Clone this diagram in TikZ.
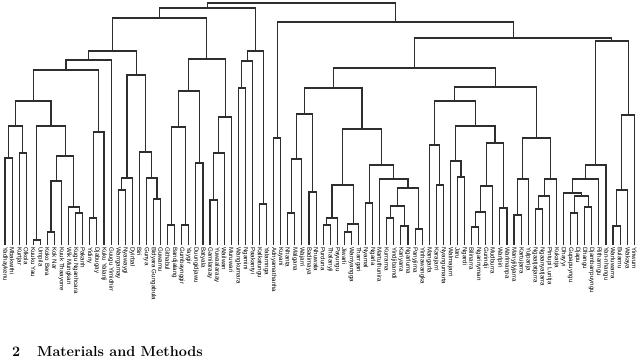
\documentclass[tikz,border=0pt]{standalone}
\usepackage{fontspec}
\newfontfamily\leaffont{Liberation Sans}
\usetikzlibrary{calc}

\tikzset{
  branch/.style={draw=black!82,line width=1.1pt},
  leaflabel/.style={rotate=-90,anchor=west,inner sep=0pt,font=\leaffont\fontsize{6.2}{7}\selectfont},
  heading/.style={anchor=base west,inner sep=0pt,font=\fontsize{14.4}{17}\selectfont\bfseries}
}

\begin{document}
\begin{tikzpicture}[x=1pt,y=-1pt]
  \useasboundingbox (0,0) rectangle (640,360);
  % leaves
  \foreach \lang [count=\i from 0] in {Yadhaykenu,Mbakwithi,Kurtjar,Olkola,Kuuku Yau,Umpila,Koko Bera,Kok Nar,Kuuk Thaayorre,Wik Mungkan,Kugu Nganhcara,Pakanh,Yidiny,Djabugay,Kuku Yalanji,Guugu Yimidhirr,Warrgamay,Nyawaygi,Dyirbal,Biri,Gunya,Bidyara Gungabula,Guwamu,Githabul,Bandjalang,Gumbaynggir,Yaygir,Duungidjawu,Batyala,Gamilaraay,Yuwaalaraay,Wailwan,Muruwari,Wangkumara,Ngamini,Paakantyi,Kalkatungu,Yalarnnga,Adnyamathanha,Kuyani,Nhanta,Malgana,Wajarri,Badimaya,Nhuwala,Purduna,Thalanyji,Payungu,Jiwarli,Warriyangga,Tharrgari,Nyamal,Ngarla,Martuthunira,Kurrama,Yindjibarndi,Kariyarra,Ngarluma,Panyjima,Yinhawangka,Mangarla,Karajarri,Nyangumarta,Walmajarri,Jaru,Ngardi,Bilinarra,Ngarinyman,Gurindji,Mudburra,Warlpiri,Warlmanpa,Manyjilyjarra,Kartujarra,Yulparija,Ngaatjatjarra,Ngaanyatjarra,Pintupi Luritja,Kukatja,Dhay'yi,Gupapuyngu,Djapu,Dhangu,Djambarrpuyngu,Ritharrngu,Yan-nhangu,Warluwarra,Bularnu,Wakaya,Yinwum} {
    \coordinate (l\i) at ({5+7.07*\i},245);
    \node[leaflabel] (t\i) at ({5+7.07*\i},247) {\lang};
  }
  % merges: name/left/right/height
  \foreach \p/\a/\b/\h in {a1/l0/l1/158,a2/l2/l3/153,a3/a1/a2/126,a4/l4/l5/240,a5/l6/l7/232,a6/a5/l8/181,a7/l10/l11/213,a8/l9/a7/207,a9/a6/a8/156,a10/a4/a9/126,a11/a3/a10/101,b1/l12/l13/218,b2/b1/l14/132,b3/a11/b2/70,b4/b3/l15/60,c1/l16/l17/190,c2/c1/l18/178,c3/l21/l22/199,c4/l20/c3/178,c5/l19/c4/152,c6/c2/c5/75,c7/b4/c6/51,d1/l23/l24/225,d2/l25/l26/225,d3/d1/d2/127,d4/l27/l28/163,d5/d3/d4/91,d6/l29/l30/200,d7/d6/l31/153,d8/d7/l32/117,d9/d5/d8/59,d10/c7/d9/18,e1/l33/l34/88,e2/e1/l35/61,e3/l36/l37/204,e4/e2/e3/51,e5/d10/e4/8,f1/l38/l39/138,g1/l40/l41/213,g2/g1/l42/159,g3/l43/l44/192,g4/g2/g3/114,h1/l45/l46/225,h2/h1/l47/218,h3/l48/l49/232,h4/h3/l50/224,h5/h2/h4/185,h6/l51/l52/203,h7/l54/l55/218,h8/l56/l57/226,h9/h7/h8/206,h10/l58/l59/229,h11/h9/h10/188,h12/l53/h11/179,h13/h6/h12/165,h14/h5/h13/129,g5/g4/h14/88,i1/l61/l62/185,i2/l60/i1/145,i3/l64/l65/177,i4/l63/i3/161,i5/l66/l67/227,i6/i5/l68/212,i7/i6/l69/186,i8/l70/l71/208,i9/i7/i8/143,i10/i4/i9/126,i11/i2/i10/101,j1/l72/l73/215,j2/j1/l74/179,j3/l75/l76/209,j4/j3/l77/196,j5/j4/l78/179,j6/j2/j5/138,i12/i11/j6/87,g6/g5/i12/68,k1/l80/l81/213,k2/l82/l83/207,k3/k1/k2/196,k4/l79/k3/193,k5/k4/l84/179,k6/k5/l85/165,m1/l86/l87/226,m2/m1/l88/190,m3/m2/l89/115,k7/k6/m3/41,g7/g6/k7/38,f2/f1/g7/22,root/e5/f2/3} {
    \coordinate (mid) at ($(\a)!.5!(\b)$);
    \coordinate (hy) at (0,\h);
    \coordinate (\p) at (mid |- hy);
    \draw[branch] (\a) |- (\p) -| (\b);
  }
  % section heading below the figure
  \node[heading] (secnum) at (12,356) {2};
  \node[heading] (sectitle) at (37,356) {Materials and Methods};
\end{tikzpicture}
\end{document}
